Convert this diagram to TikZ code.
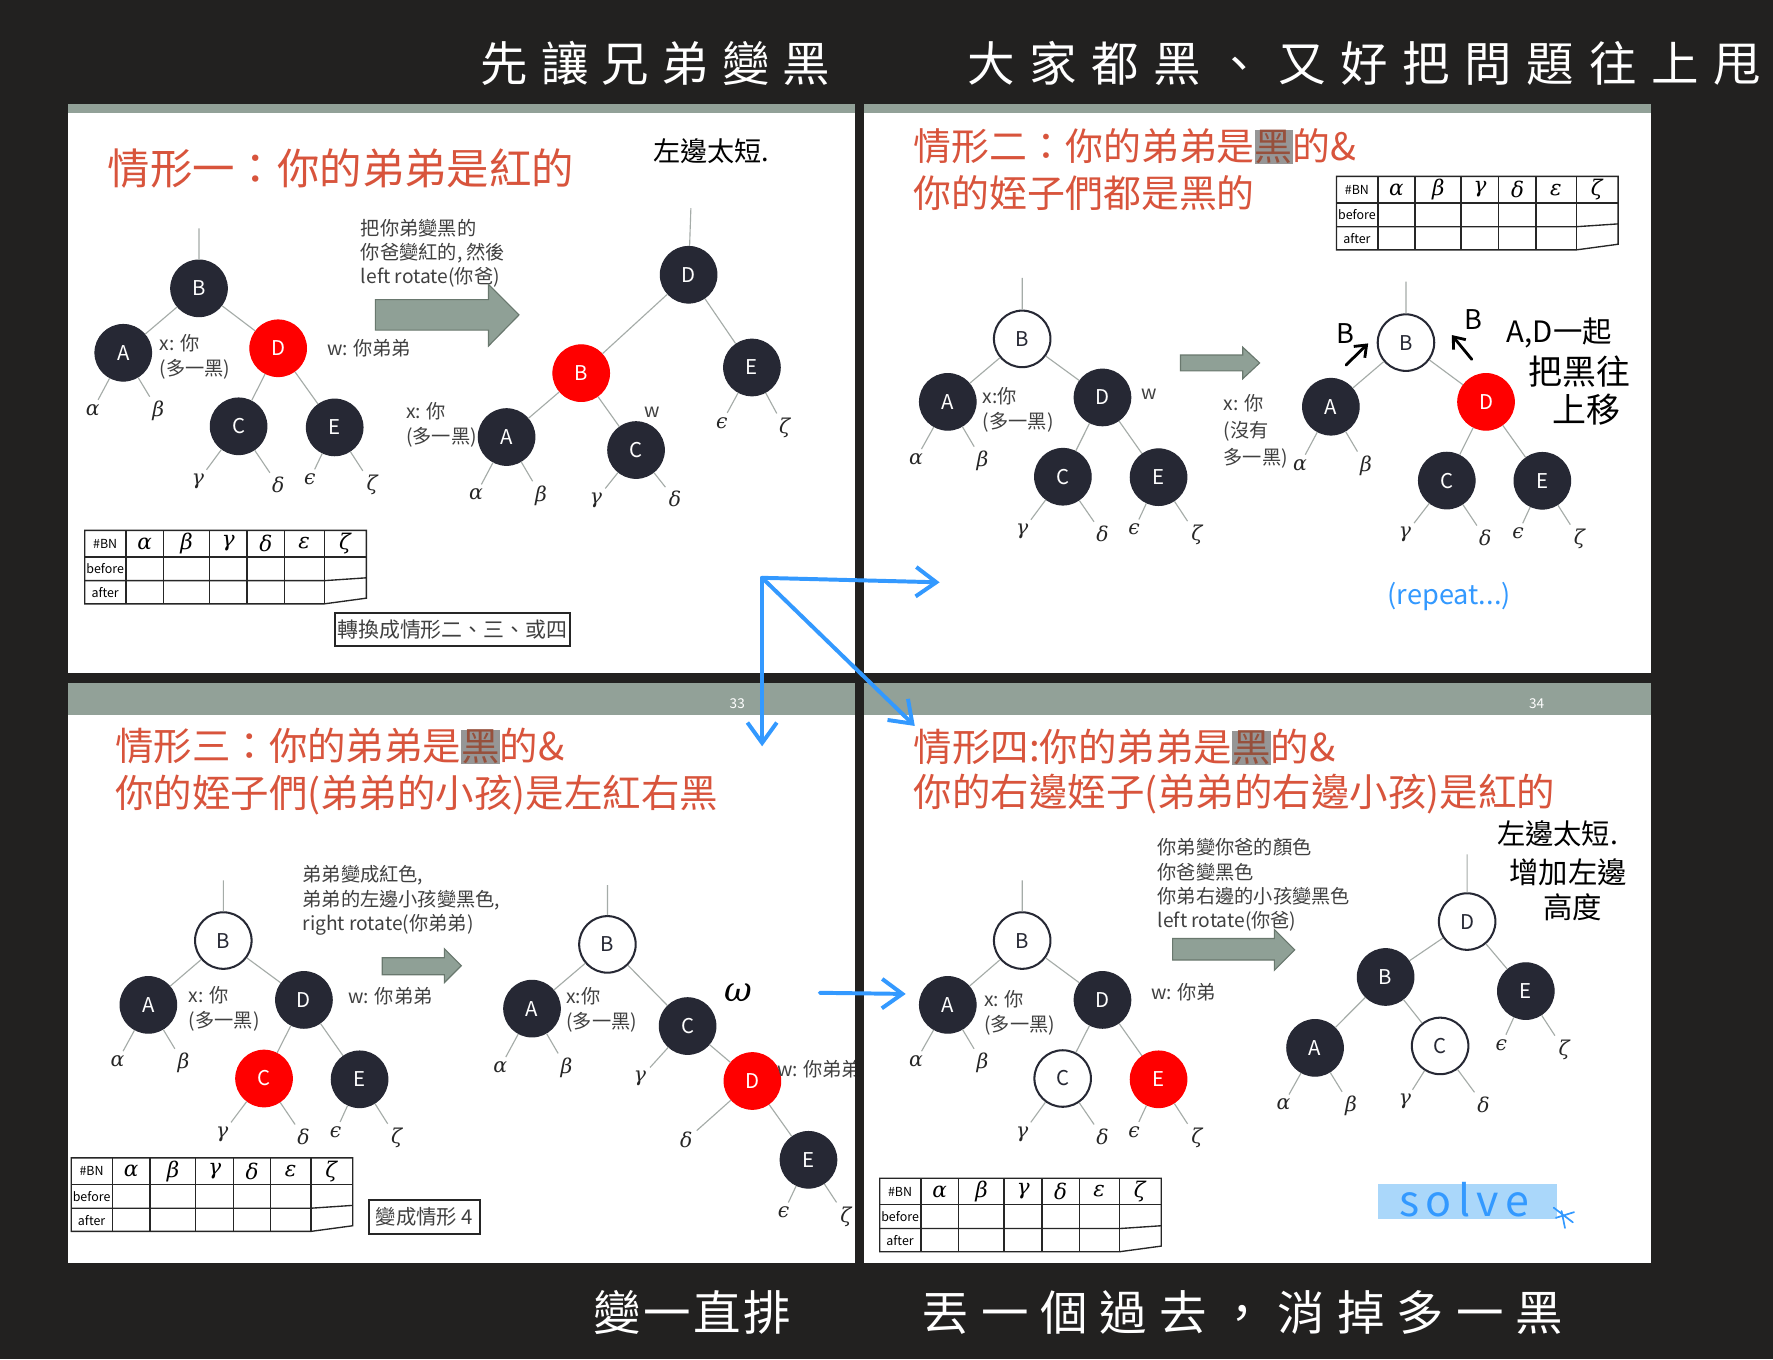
\documentclass[tikz,border=0pt]{standalone}
\usepackage{fontspec}
\setmainfont{Noto Sans CJK TC}
\newfontfamily\handfont{Noto Sans CJK TC}
\newfontfamily\grk{DejaVu Serif}
\definecolor{bgdark}{RGB}{34,33,32}
\definecolor{slidebar}{RGB}{146,161,152}
\definecolor{ttlred}{RGB}{216,84,60}
\definecolor{nodeblk}{RGB}{38,40,52}
\definecolor{nodered}{RGB}{255,0,0}
\definecolor{edgegray}{RGB}{165,172,168}
\definecolor{txtgray}{RGB}{64,64,64}
\definecolor{arrgray}{RGB}{143,160,150}
\definecolor{arrdark}{RGB}{105,120,110}
\definecolor{blueink}{RGB}{51,153,255}
\definecolor{hlblue}{RGB}{170,215,250}
\definecolor{hlgray}{RGB}{150,150,150}
\definecolor{hlink}{RGB}{150,80,60}
\usetikzlibrary{arrows.meta}
\newcommand{\fsz}[2]{\fontsize{#1}{#2}\selectfont}
\newcommand{\gk}[1]{{\grk\itshape #1}}
\newcommand{\hlk}[1]{{\setlength{\fboxsep}{0pt}\colorbox{hlgray}{\textcolor{hlink}{#1}}}}
% #BN table: name, x, y
\newcommand{\bntable}[3]{%
  \begin{scope}[shift={(#2,#3)}]
    \draw[tbl] (0,0) -- (249,0) -- (249,60) -- (212,65) -- (0,65) -- cycle;
    \draw[tbl] (0,23.5) -- (249,23.5);
    \draw[tbl] (0,44.5) -- (212,44.5) -- (249,42);
    \draw[tbl] (36.5,0) -- (36.5,65) (69.5,0) -- (69.5,65) (110,0) -- (110,65)
               (143.5,0) -- (143.5,65) (176.5,0) -- (176.5,65) (212,0) -- (212,65);
    \node[tbs] (#1bn) at (18,11.7) {\#BN};
    \node[tbh] (#1al) at (53,11.7) {\gk{α}};
    \node[tbh] (#1be) at (90,11.7) {\gk{β}};
    \node[tbh] (#1ga) at (127,11.7) {\gk{γ}};
    \node[tbh] (#1de) at (160,11.7) {\gk{δ}};
    \node[tbh] (#1ep) at (194,11.7) {\gk{ε}};
    \node[tbh] (#1ze) at (230,11.7) {\gk{ζ}};
    \node[tbs] (#1bf) at (18,34) {before};
    \node[tbs] (#1af) at (18,55) {after};
  \end{scope}}

\begin{document}
\begin{tikzpicture}[x=1pt, y=-1pt,
  bn/.style={circle, minimum size=50pt, inner sep=0pt, fill=nodeblk, draw=nodeblk,
             line width=1pt, text=white, font=\fsz{18}{18}},
  rn/.style={bn, fill=nodered, draw=nodered},
  wn/.style={bn, fill=white, draw=nodeblk, line width=1.8pt, text=nodeblk},
  lf/.style={inner sep=2pt, text=black!85, font=\fsz{18}{18}},
  ed/.style={draw=edgegray, line width=1pt},
  led/.style={ed, shorten >=2pt},
  txt/.style={anchor=west, inner sep=0pt, align=left, text=txtgray, font=\fsz{17}{22}},
  ttl/.style={anchor=west, inner sep=0pt, align=left, text=ttlred},
  garr/.style={fill=arrgray, draw=arrdark, line width=1pt},
  bink/.style={draw=blueink, line width=3.5pt, line cap=round, line join=round,
               -{Straight Barb[length=18pt, width=26pt]}},
  hink/.style={draw=black, line width=2.5pt, line cap=round,
               -{Straight Barb[length=9pt, width=14pt]}},
  hand/.style={inner sep=0pt, anchor=west, text=white},
  note/.style={inner sep=0pt, text=black},
  tbl/.style={draw=black!85, line width=1.2pt},
  tbh/.style={inner sep=0pt, font=\fsz{19}{19}},
  tbs/.style={inner sep=0pt, font=\fsz{11}{11}},
  boxed/.style={draw=black!85, line width=1.6pt, inner sep=0pt, text=txtgray},
  pnum/.style={inner sep=0pt, text=white, font=\fsz{12}{12}}
]
% Background and slides
\fill[bgdark] (0,0) rectangle (1568,1202);
\fill[white] (60,93) rectangle (756,595);
\fill[white] (764,93) rectangle (1460,595);
\fill[white] (60,604) rectangle (756,1117);
\fill[white] (764,604) rectangle (1460,1117);
\fill[slidebar] (60,92) rectangle (756,100);
\fill[slidebar] (764,92) rectangle (1460,100);
\fill[slidebar] (60,604) rectangle (756,632);
\fill[slidebar] (764,604) rectangle (1460,632);
\node[pnum] (n33) at (652,622) {33};
\node[pnum] (n34) at (1359,622) {34};

% Handwriting on the dark margin
\node[hand, font={\handfont\fsz{42}{42}\addfontfeature{LetterSpace=27}}] (topl) at (425,56) {先讓兄弟變黑};
\node[hand, font={\handfont\fsz{42}{42}\addfontfeature{LetterSpace=31}}] (topr) at (855,56) {大家都黑、又好把問題往上甩};
\node[hand, font={\handfont\fsz{42}{42}\addfontfeature{LetterSpace=5}}] (botl) at (525,1161) {變一直排};
\node[hand, font={\handfont\fsz{42}{42}\addfontfeature{LetterSpace=25}}] (botr) at (815,1161) {丟一個過去，消掉多一黑};

% ---------------- Case 1 ----------------
\node[ttl, font=\fsz{37.5}{40}] (t1) at (95,149) {情形一：你的弟弟是紅的};
\node[note, font=\fsz{24}{24}] (n1) at (629,134) {左邊太短.};

% left tree
\coordinate (aTop) at (176,202);
\node[bn] (aB) at (176,255) {B};
\node[bn] (aA) at (109,312) {A};
\node[rn] (aD) at (246,308) {D};
\node[bn] (aC) at (211,377) {C};
\node[bn] (aE) at (296,378) {E};
\node[lf] (aal) at (82,362.5) {\gk{α}};
\node[lf] (abe) at (140,363.5) {\gk{β}};
\node[lf] (aga) at (175,425.8) {\gk{γ}};
\node[lf] (ade) at (246,429) {\gk{δ}};
\node[lf] (aep) at (274,424) {\gk{ϵ}};
\node[lf] (aze) at (329,429) {\gk{ζ}};
\draw[ed] (aB) -- (aTop) (aB) -- (aA) (aB) -- (aD) (aD) -- (aC) (aD) -- (aE);
\draw[led] (aA) -- (aal); \draw[led] (aA) -- (abe);
\draw[led] (aC) -- (aga); \draw[led] (aC) -- (ade);
\draw[led] (aE) -- (aep); \draw[led] (aE) -- (aze);
\node[txt] (ax) at (141,315.5) {x: 你\\(多一黑)};
\node[txt] (aw) at (289,308) {w: 你弟弟};

\node[txt, font=\fsz{17}{21}] (s1) at (319,224) {把你弟變黑的\\你爸變紅的, 然後\\left rotate(你爸)};
\draw[garr] (332,265) -- (432,265) -- (432,251.5) -- (459,278.5) -- (432,306) -- (432,292) -- (332,292) -- cycle;

% right tree
\coordinate (bTop) at (611,184);
\node[bn] (bD) at (609,243) {D};
\node[rn] (bB) at (514,330) {B};
\node[bn] (bE) at (665,325) {E};
\node[bn] (bA) at (448,386.5) {A};
\node[bn] (bC) at (562.5,398) {C};
\node[lf] (bal) at (421,437.3) {\gk{α}};
\node[lf] (bbe) at (478.5,438.3) {\gk{β}};
\node[lf] (bga) at (527,442.3) {\gk{γ}};
\node[lf] (bde) at (597,441.6) {\gk{δ}};
\node[lf] (bep) at (638.3,374) {\gk{ϵ}};
\node[lf] (bze) at (693.8,378.3) {\gk{ζ}};
\draw[ed] (bD) -- (bTop) (bD) -- (bB) (bD) -- (bE) (bB) -- (bA) (bB) -- (bC);
\draw[led] (bA) -- (bal); \draw[led] (bA) -- (bbe);
\draw[led] (bC) -- (bga); \draw[led] (bC) -- (bde);
\draw[led] (bE) -- (bep); \draw[led] (bE) -- (bze);
\node[txt] (bx) at (359,376) {x: 你\\(多一黑)};
\node[txt, anchor=center] (bw) at (576.5,364.3) {w};

\bntable{ta}{75}{469}
\node[boxed, minimum width=208pt, minimum height=29pt, font=\fsz{18.5}{18.5}] (c1) at (400,556.5) {轉換成情形二、三、或四};

% ---------------- Case 2 ----------------
\node[ttl, font=\fsz{33.5}{41}] (t2) at (808,150) {情形二：你的弟弟是\hlk{黑}的\&\\你的姪子們都是黑的};
\bntable{tb}{1182}{156}

% left tree
\coordinate (cTop) at (904,245.7);
\node[wn] (cB) at (904,299.7) {B};
\node[bn] (cA) at (838.2,355.4) {A};
\node[bn] (cD) at (975,351.5) {D};
\node[bn] (cC) at (940,421.6) {C};
\node[bn] (cE) at (1024.6,422) {E};
\node[lf] (cal) at (810,406) {\gk{α}};
\node[lf] (cbe) at (869,407.7) {\gk{β}};
\node[lf] (cga) at (904,470) {\gk{γ}};
\node[lf] (cde) at (975,472.3) {\gk{δ}};
\node[lf] (cep) at (1003,468.4) {\gk{ϵ}};
\node[lf] (cze) at (1058.4,473.3) {\gk{ζ}};
\draw[ed] (cB) -- (cTop) (cB) -- (cA) (cB) -- (cD) (cD) -- (cC) (cD) -- (cE);
\draw[led] (cA) -- (cal); \draw[led] (cA) -- (cbe);
\draw[led] (cC) -- (cga); \draw[led] (cC) -- (cde);
\draw[led] (cE) -- (cep); \draw[led] (cE) -- (cze);
\node[txt] (cx) at (869,362.4) {x:你\\(多一黑)};
\node[txt, anchor=center] (cw) at (1016.5,348.8) {w};

\draw[garr] (1044,314) -- (1099,314) -- (1099,307) -- (1114,321) -- (1099,335) -- (1099,328) -- (1044,328) -- cycle;
\node[txt, font=\fsz{17}{24}] (dx) at (1082,381.6) {x: 你\\(沒有\\多一黑)};

% right tree
\coordinate (dTop) at (1243.4,249);
\node[wn] (dB) at (1243.4,303) {B};
\node[bn] (dA) at (1177,359.7) {A};
\node[rn] (dD) at (1314.2,355.4) {D};
\node[bn] (dC) at (1279.5,425) {C};
\node[bn] (dE) at (1364,425.2) {E};
\node[lf] (dal) at (1149.6,411) {\gk{α}};
\node[lf] (dbe) at (1208,412) {\gk{β}};
\node[lf] (dga) at (1242.6,473) {\gk{γ}};
\node[lf] (dde) at (1313.4,475.6) {\gk{δ}};
\node[lf] (dep) at (1342.5,471.7) {\gk{ϵ}};
\node[lf] (dze) at (1396.8,476.6) {\gk{ζ}};
\draw[ed] (dB) -- (dTop) (dB) -- (dA) (dB) -- (dD) (dD) -- (dC) (dD) -- (dE);
\draw[led] (dA) -- (dal); \draw[led] (dA) -- (dbe);
\draw[led] (dC) -- (dga); \draw[led] (dC) -- (dde);
\draw[led] (dE) -- (dep); \draw[led] (dE) -- (dze);

% notes
\node[note, font=\fsz{24}{24}] (hB1) at (1189.6,294.8) {B};
\node[note, font=\fsz{24}{24}] (hB2) at (1303,283) {B};
\coordinate (hA1s) at (1190.4,322.8); \coordinate (hA1e) at (1210,303.7);
\coordinate (hA2s) at (1301.6,317.8); \coordinate (hA2e) at (1283.9,296.3);
\draw[hink] (hA1s) -- (hA1e);
\draw[hink] (hA2s) -- (hA2e);
\node[note, font=\fsz{26}{26}] (h21) at (1379,294.8) {A,D一起};
\node[note, font=\fsz{30}{30}] (h22) at (1397,328.7) {把黑往};
\node[note, font=\fsz{30}{30}] (h23) at (1403,362.6) {上移};
\node[note, text=blueink, font=\fsz{24}{24}] (rep) at (1281.7,527.4) {(repeat...)};

% ---------------- Case 3 ----------------
\node[ttl, font=\fsz{34}{41.3}] (t3) at (101.7,682.4) {情形三：你的弟弟是\hlk{黑}的\&\\你的姪子們(弟弟的小孩)是左紅右黑};

% left tree
\coordinate (eTop) at (197.5,778.6);
\node[wn] (eB) at (197.5,831.8) {B};
\node[bn] (eA) at (131.2,888.7) {A};
\node[bn] (eD) at (268.8,884.3) {D};
\node[rn] (eC) at (233.5,953.8) {C};
\node[bn] (eE) at (318,954.5) {E};
\node[lf] (eal) at (104,938.5) {\gk{α}};
\node[lf] (ebe) at (162.3,940.2) {\gk{β}};
\node[lf] (ega) at (196.5,1003) {\gk{γ}};
\node[lf] (ede) at (268.3,1005.3) {\gk{δ}};
\node[lf] (eep) at (296.7,1001.2) {\gk{ϵ}};
\node[lf] (eze) at (350.8,1006.4) {\gk{ζ}};
\draw[ed] (eB) -- (eTop) (eB) -- (eA) (eB) -- (eD) (eD) -- (eC) (eD) -- (eE);
\draw[led] (eA) -- (eal); \draw[led] (eA) -- (ebe);
\draw[led] (eC) -- (ega); \draw[led] (eC) -- (ede);
\draw[led] (eE) -- (eep); \draw[led] (eE) -- (eze);
\node[txt] (ex) at (166.8,892.5) {x: 你\\(多一黑)};
\node[txt] (ew) at (308,881) {w: 你弟弟};

\node[txt, font=\fsz{17}{21.3}] (s3) at (267.4,796.2) {弟弟變成紅色,\\弟弟的左邊小孩變黑色,\\right rotate(你弟弟)};
\draw[garr] (338,847) -- (393,847) -- (393,839) -- (408,854) -- (393,869) -- (393,862) -- (338,862) -- cycle;

% right tree
\coordinate (fTop) at (537.2,782.7);
\node[wn] (fB) at (537.2,835.2) {B};
\node[bn] (fA) at (470.5,892) {A};
\node[bn] (fC) at (608.1,907.4) {C};
\node[rn] (fD) at (665.4,956) {D};
\node[bn] (fE) at (715,1025.7) {E};
\node[lf] (fal) at (442.5,943.7) {\gk{α}};
\node[lf] (fbe) at (501,944.3) {\gk{β}};
\node[lf] (fga) at (566,953.8) {\gk{γ}};
\node[lf] (fde) at (607,1008) {\gk{δ}};
\node[lf] (fep) at (693,1072.4) {\gk{ϵ}};
\node[lf] (fze) at (748,1075.8) {\gk{ζ}};
\draw[ed] (fB) -- (fTop) (fB) -- (fA) (fB) -- (fC) (fC) -- (fD) (fD) -- (fE);
\draw[led] (fA) -- (fal); \draw[led] (fA) -- (fbe);
\draw[led] (fC) -- (fga); \draw[led] (fD) -- (fde);
\draw[led] (fE) -- (fep); \draw[led] (fE) -- (fze);
\node[txt] (fx) at (500.6,893) {x:你\\(多一黑)};
\begin{scope}
  \clip (60,604) rectangle (756,1117);
  \node[txt] (fw) at (687,945.4) {w: 你弟弟};
\end{scope}
\node[note, font=\fsz{30}{30}] (om) at (653,878) {\gk{ω}};

\bntable{tc}{63}{1024}
\node[boxed, minimum width=98.5pt, minimum height=29.5pt, font=\fsz{18}{18}] (c3) at (375.3,1076.3) {變成情形 4};

% ---------------- Case 4 ----------------
\node[ttl, font=\fsz{34}{40}] (t4) at (808,682.4) {情形四:你的弟弟是\hlk{黑}的\&\\你的右邊姪子(弟弟的右邊小孩)是紅的};

% left tree
\coordinate (gTop) at (904,778.6);
\node[wn] (gB) at (904,831.8) {B};
\node[bn] (gA) at (838.2,888.7) {A};
\node[bn] (gD) at (975,884.3) {D};
\node[wn] (gC) at (939.8,953.8) {C};
\node[rn] (gE) at (1024.6,954.5) {E};
\node[lf] (gal) at (810,938.5) {\gk{α}};
\node[lf] (gbe) at (869,940.2) {\gk{β}};
\node[lf] (gga) at (904,1003) {\gk{γ}};
\node[lf] (gde) at (975,1005.3) {\gk{δ}};
\node[lf] (gep) at (1003,1001.2) {\gk{ϵ}};
\node[lf] (gze) at (1058.4,1006.4) {\gk{ζ}};
\draw[ed] (gB) -- (gTop) (gB) -- (gA) (gB) -- (gD) (gD) -- (gC) (gD) -- (gE);
\draw[led] (gA) -- (gal); \draw[led] (gA) -- (gbe);
\draw[led] (gC) -- (gga); \draw[led] (gC) -- (gde);
\draw[led] (gE) -- (gep); \draw[led] (gE) -- (gze);
\node[txt] (gx) at (870.3,896) {x: 你\\(多一黑)};
\node[txt] (gw) at (1017.8,877.6) {w: 你弟};

\node[txt, font=\fsz{17}{21.5}] (s4) at (1023.6,782.7) {你弟變你爸的顏色\\你爸變黑色\\你弟右邊的小孩變黑色\\left rotate(你爸)};
\draw[garr] (1037,830) -- (1127,830) -- (1127,822) -- (1145,840) -- (1127,858) -- (1127,849) -- (1037,849) -- cycle;

% right tree
\coordinate (hTop) at (1297.5,755.6);
\node[wn] (hD) at (1297.5,815) {D};
\node[bn] (hB) at (1225.4,864) {B};
\node[bn] (hE) at (1349.4,876.5) {E};
\node[bn] (hA) at (1163,926.7) {A};
\node[wn] (hC) at (1273.6,925) {C};
\node[lf] (hal) at (1135,976.8) {\gk{α}};
\node[lf] (hbe) at (1194.7,978.2) {\gk{β}};
\node[lf] (hga) at (1242.6,974.2) {\gk{γ}};
\node[lf] (hde) at (1312,976.8) {\gk{δ}};
\node[lf] (hep) at (1327.7,924) {\gk{ϵ}};
\node[lf] (hze) at (1383.3,928.4) {\gk{ζ}};
\draw[ed] (hD) -- (hTop) (hD) -- (hB) (hD) -- (hE) (hB) -- (hA) (hB) -- (hC);
\draw[led] (hA) -- (hal); \draw[led] (hA) -- (hbe);
\draw[led] (hC) -- (hga); \draw[led] (hC) -- (hde);
\draw[led] (hE) -- (hep); \draw[led] (hE) -- (hze);

\node[note, font=\fsz{25}{25}] (h41) at (1377.5,737) {左邊太短.};
\node[note, font=\fsz{26}{26}] (h42) at (1387,771) {增加左邊};
\node[note, font=\fsz{26}{26}] (h43) at (1391,802) {高度};

\bntable{td}{778}{1042}
\fill[hlblue] (1219,1047) rectangle (1377,1078);
\node[note, text=blueink, font={\fsz{38}{38}\addfontfeature{LetterSpace=15}}] (solve) at (1295,1061) {solve};
\draw[blueink, line width=1.5pt, line cap=round] (1374,1068) -- (1391,1081) (1376,1077) -- (1392,1072) (1381,1071) -- (1384,1086);

% Blue hand-drawn arrows
\coordinate (bo) at (674,511);
\coordinate (bR) at (831,515);
\coordinate (bDn) at (674,660);
\coordinate (bX) at (809,642);
\draw[bink] (bo) -- (bR);
\draw[bink] (bo) -- (bDn);
\draw[bink] (bo) -- (bX);
\coordinate (bs) at (725,878);
\coordinate (be) at (801,879);
\draw[bink] (bs) -- (be);
\end{tikzpicture}
\end{document}
